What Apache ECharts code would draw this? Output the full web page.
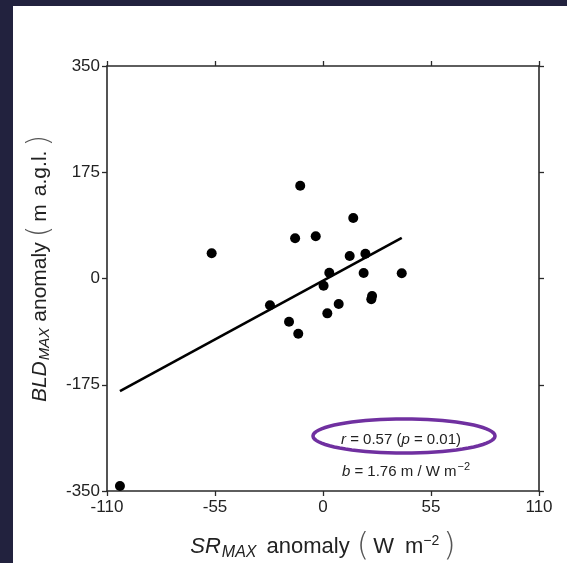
<!DOCTYPE html>
<html>
<head>
<meta charset="utf-8">
<script src="https://cdn.jsdelivr.net/npm/echarts@6/dist/echarts.min.js"></script>
<style>
html,body{margin:0;padding:0;background:#fff;}
#c{width:567px;height:563px;}
</style>
</head>
<body>
<div id="c"></div>
<script>
// SR_MAX anomaly (W m^-2)
const srAnomaly = [-56.7, -11.6, -14.2, -3.7, 15.4, 13.6, 21.6, 3.2, 20.7, 40.1, 0.3, -27.0, 8.0, 2.2, 25.0, 24.6, -17.3, -12.6, -103.4];
// BLD_MAX anomaly (m a.g.l.)
const bldAnomaly = [41.5, 152.8, 66.2, 69.5, 99.6, 37.1, 40.9, 9.6, 9.1, 8.5, -11.8, -44.2, -42.0, -57.4, -28.8, -34.3, -71.1, -90.9, -341.8];
// regression line endpoints (x range of data)
const fitX = [-103.4, 40.1];
const fitY = [-185.6, 67.0];
const xTicks = [-110, -55, 0, 55, 110];
const yTicks = [-350, -175, 0, 175, 350];
const statR = '0.57';
const statP = '0.01';
const statB = '1.76';

const chart = echarts.init(document.getElementById('c'));
const pts = srAnomaly.map((x, i) => [x, bldAnomaly[i]]);
const fit = fitX.map((x, i) => [x, fitY[i]]);

const axisLine = {show: true, onZero: false, lineStyle: {color: '#2a2a2a', width: 1.6}};
const axisTick = {show: true, inside: false, length: 5, lineStyle: {color: '#2a2a2a', width: 1.3}};
const labelFont = {color: '#222', fontSize: 17, fontFamily: 'Liberation Sans, Arial, sans-serif'};

const F = 'Liberation Sans';
const xRich = {
  i: {fontStyle: 'italic', fontSize: 22, fontFamily: F, color: '#222'},
  sub: {fontStyle: 'italic', fontSize: 16, fontFamily: F, color: '#222', padding: [11, 0, 0, 1]},
  n: {fontSize: 22, fontFamily: F, color: '#222', padding: [0, 7, 0, 10]},
  w: {fontSize: 22, fontFamily: F, color: '#222', padding: [0, 11, 0, 4]},
  m: {fontSize: 22, fontFamily: F, color: '#222'},
  p: {fontSize: 32, fontFamily: 'DejaVu Sans', fontWeight: 'lighter', color: '#555'},
  q: {fontSize: 32, fontFamily: 'DejaVu Sans', fontWeight: 'lighter', color: '#555', padding: [0, 0, 0, 4]},
  sup: {fontSize: 14, fontFamily: F, color: '#222', padding: [0, 0, 12, 0]}
};
const yRich = {
  i: {fontStyle: 'italic', fontSize: 21, fontFamily: F, color: '#222'},
  sub: {fontStyle: 'italic', fontSize: 15, fontFamily: F, color: '#222', padding: [10, 0, 0, 1]},
  n: {fontSize: 21, fontFamily: F, color: '#222', padding: [0, 5, 0, 6]},
  u: {fontSize: 21, fontFamily: F, color: '#222', padding: [0, 4, 0, 4]},
  p: {fontSize: 30, fontFamily: 'DejaVu Sans', fontWeight: 'lighter', color: '#555'}
};

// ellipse outline around r/p annotation
const ell = [];
for (let k = 0; k < 72; k++) {
  const a = k / 72 * Math.PI * 2;
  ell.push([404 + 91 * Math.cos(a), 436 + 17 * Math.sin(a)]);
}

chart.setOption({
  animation: false,
  backgroundColor: '#fff',
  grid: {left: 107, right: 28, top: 66, bottom: 72, outerBoundsMode: 'none', containLabel: false},
  xAxis: [{
    type: 'value', min: xTicks[0], max: xTicks[xTicks.length - 1], interval: 55,
    position: 'bottom',
    axisLine, axisTick, splitLine: {show: false},
    axisLabel: Object.assign({margin: 8}, labelFont),
    name: '{i|SR}{sub|MAX}{n|anomaly}{p|(}{w|W}{m|m}{sup|−2}{q|)}',
    nameLocation: 'middle', nameGap: 40,
    nameTextStyle: {rich: xRich, fontSize: 22, verticalAlign: 'top'}
  }, {
    type: 'value', min: xTicks[0], max: xTicks[xTicks.length - 1], interval: 55,
    position: 'top',
    axisLine, axisTick, splitLine: {show: false}, axisLabel: {show: false}
  }],
  yAxis: [{
    type: 'value', min: yTicks[0], max: yTicks[yTicks.length - 1], interval: 175,
    position: 'left',
    axisLine, axisTick, splitLine: {show: false},
    axisLabel: Object.assign({margin: 7}, labelFont),
    name: '{i|BLD}{sub|MAX}{n|anomaly}{p|(}{u|m}{u|a.g.l.}{p|)}',
    nameLocation: 'middle', nameGap: 45,
    nameTextStyle: {rich: yRich, fontSize: 21, padding: [0, 0, 0, 20]}
  }, {
    type: 'value', min: yTicks[0], max: yTicks[yTicks.length - 1], interval: 175,
    position: 'right',
    axisLine, axisTick, splitLine: {show: false}, axisLabel: {show: false}
  }],
  series: [{
    type: 'line', data: fit, xAxisIndex: 0, yAxisIndex: 0,
    symbol: 'none', lineStyle: {color: '#000', width: 2.6}, z: 2
  }, {
    type: 'scatter', data: pts, xAxisIndex: 0, yAxisIndex: 0,
    symbol: 'circle', symbolSize: 10, itemStyle: {color: '#000', opacity: 1}, z: 3
  }],
  graphic: [
    {type: 'rect', left: 0, top: 0, shape: {width: 567, height: 6}, style: {fill: '#22223e'}, z: 100},
    {type: 'rect', left: 0, top: 0, shape: {width: 13, height: 563}, style: {fill: '#22223e'}, z: 100},
    {type: 'polygon', shape: {points: ell}, style: {fill: null, stroke: '#7030a0', lineWidth: 3.5}, z: 50},
    {type: 'text', x: 401, y: 440, z: 51,
      style: {text: '{i|r} = ' + statR + ' ({i|p} = ' + statP + ')', align: 'center', verticalAlign: 'middle',
        fontSize: 15, fontFamily: F, fill: '#222',
        rich: {i: {fontStyle: 'italic', fontSize: 15, fontFamily: F, color: '#222'}}}},
    {type: 'text', x: 406, y: 472, z: 51,
      style: {text: '{i|b} = ' + statB + ' m / W m{sup|−2}', align: 'center', verticalAlign: 'middle',
        fontSize: 15, fontFamily: F, fill: '#222',
        rich: {i: {fontStyle: 'italic', fontSize: 15, fontFamily: F, color: '#222'},
               sup: {fontSize: 11, fontFamily: F, color: '#222', padding: [0, 0, 10, 1]}}}}
  ]
});
</script>
</body>
</html>
